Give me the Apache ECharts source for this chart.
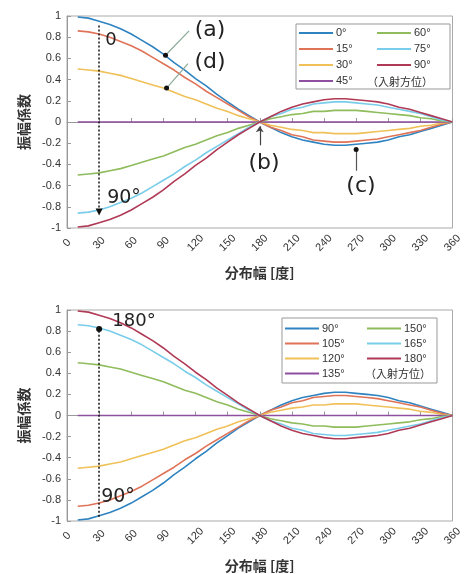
<!DOCTYPE html>
<html>
<head>
<meta charset="utf-8">
<script src="https://cdn.jsdelivr.net/npm/echarts@6/dist/echarts.min.js"></script>
<style>
  html, body { margin: 0; padding: 0; background: #fff; }
  #chart { width: 465px; height: 574px; }
</style>
</head>
<body>
<div id="chart"></div>
<script>
// Distribution width [deg] at which the coefficient is sampled
const widths = [10,20,30,40,50,60,70,80,90,100,110,120,130,140,150,160,170,180,
                190,200,210,220,230,240,250,260,270,280,290,300,310,320,330,340,350,360];

// Amplitude coefficient vs. distribution width, one list per incident azimuth
const coef0  = [0.99,0.98,0.95,0.92,0.88,0.83,0.77,0.71,0.64,0.56,0.49,0.41,0.34,0.26,0.19,0.12,0.06,0,
                -0.05,-0.10,-0.14,-0.17,-0.19,-0.21,-0.22,-0.22,-0.21,-0.20,-0.19,-0.17,-0.14,-0.12,-0.09,-0.06,-0.03,0];
const coef15 = [0.86,0.85,0.83,0.80,0.76,0.72,0.67,0.61,0.55,0.49,0.42,0.36,0.29,0.23,0.17,0.11,0.05,0,
                -0.05,-0.08,-0.12,-0.14,-0.17,-0.18,-0.19,-0.19,-0.18,-0.17,-0.16,-0.14,-0.12,-0.10,-0.08,-0.05,-0.02,0];
const coef30 = [0.50,0.49,0.48,0.46,0.44,0.41,0.38,0.35,0.32,0.28,0.24,0.21,0.17,0.13,0.10,0.06,0.03,0,
                -0.03,-0.05,-0.07,-0.08,-0.10,-0.10,-0.11,-0.11,-0.11,-0.10,-0.09,-0.08,-0.07,-0.06,-0.04,-0.03,-0.01,0];
const coef45 = [0,0,0,0,0,0,0,0,0,0,0,0,0,0,0,0,0,0,
                0,0,0,0,0,0,0,0,0,0,0,0,0,0,0,0,0,0];
const coef60 = [-0.50,-0.49,-0.48,-0.46,-0.44,-0.41,-0.38,-0.35,-0.32,-0.28,-0.24,-0.21,-0.17,-0.13,-0.10,-0.06,-0.03,0,
                0.03,0.05,0.07,0.08,0.10,0.10,0.11,0.11,0.11,0.10,0.09,0.08,0.07,0.06,0.04,0.03,0.01,0];
const coef75 = [-0.86,-0.85,-0.83,-0.80,-0.76,-0.72,-0.67,-0.61,-0.55,-0.49,-0.42,-0.36,-0.29,-0.23,-0.17,-0.11,-0.05,0,
                0.05,0.08,0.12,0.14,0.17,0.18,0.19,0.19,0.18,0.17,0.16,0.14,0.12,0.10,0.08,0.05,0.02,0];
const coef90 = [-0.99,-0.98,-0.95,-0.92,-0.88,-0.83,-0.77,-0.71,-0.64,-0.56,-0.49,-0.41,-0.34,-0.26,-0.19,-0.12,-0.06,0,
                0.05,0.10,0.14,0.17,0.19,0.21,0.22,0.22,0.21,0.20,0.19,0.17,0.14,0.12,0.09,0.06,0.03,0];
// Azimuths 90..180 repeat the same curves mirrored about 90 deg
const coef105 = coef75, coef120 = coef60, coef135 = coef45;
const coef150 = coef30, coef165 = coef15, coef180 = coef0;

const topNames    = ['0°','15°','30°','45°','60°','75°','90°'];
const topData     = [coef0, coef15, coef30, coef45, coef60, coef75, coef90];
// trailing space keeps the lower legend's "90° " distinct from the upper one
const bottomNames = ['90° ','105°','120°','135°','150°','165°','180°'];
const bottomData  = [coef90, coef105, coef120, coef135, coef150, coef165, coef180];

const xTicks = { min: 0, max: 360, interval: 30 };
const yTicks = { min: -1, max: 1, interval: 0.2 };

const palette = ['#2f83c0','#df7358','#f0c159','#8f4fa0','#8fbc5c','#79cdea','#b03a56'];
const LATIN = '"Liberation Sans", Arial, sans-serif';
const CJK = '"Noto Sans CJK JP", "Noto Sans", sans-serif';

function pairs(arr) { return widths.map((w, i) => [w, arr[i]]); }

function xAxis(gridIndex) {
  return {
    type: 'value', gridIndex, min: xTicks.min, max: xTicks.max, interval: xTicks.interval,
    name: '分布幅 [度]', nameLocation: 'middle', nameGap: 38,
    nameTextStyle: { fontFamily: CJK, fontSize: 14, fontWeight: 'bold', color: '#333' },
    axisLine: { show: true, lineStyle: { color: '#999' } },
    axisTick: { inside: true, length: 4, lineStyle: { color: '#999' } },
    splitLine: { show: false },
    axisLabel: { rotate: 45, margin: 15, align: 'center', verticalAlign: 'middle',
                 fontFamily: LATIN, fontSize: 11, color: '#333' }
  };
}
function yAxis(gridIndex) {
  return {
    type: 'value', gridIndex, min: yTicks.min, max: yTicks.max, interval: yTicks.interval,
    name: '振幅係数', nameLocation: 'middle', nameGap: 35, nameRotate: 90,
    nameTextStyle: { fontFamily: CJK, fontSize: 14, fontWeight: 'bold', color: '#333' },
    axisLine: { show: true, lineStyle: { color: '#999' } },
    axisTick: { inside: true, length: 4, lineStyle: { color: '#999' } },
    splitLine: { show: false },
    axisLabel: { margin: 6, fontFamily: LATIN, fontSize: 11, color: '#333' }
  };
}

function pt(x, y, symbol, size) { return { coord: [x, y], symbol: symbol, symbolSize: size }; }

// Arrows and pointers drawn in data coordinates
const topMarks = [
  { color: '#111', type: [2, 2], width: 1.5,
    d: [pt(30, 0.91, 'none', 0), pt(30, -0.85, 'triangle', 7)] },
  { color: '#8aa896', type: 'solid', width: 1.2,
    d: [pt(114, 0.86, 'none', 0), pt(92, 0.63, 'none', 0)] },
  { color: '#8aa896', type: 'solid', width: 1.2,
    d: [pt(113, 0.55, 'none', 0), pt(93, 0.32, 'none', 0)] },
  { color: '#444', type: 'solid', width: 1.2,
    d: [pt(180, -0.22, 'none', 0), pt(180, -0.04, 'arrow', 6)] },
  { color: '#555', type: 'solid', width: 1.2,
    d: [pt(270, -0.46, 'none', 0), pt(270, -0.26, 'none', 0)] }
];
const topDots = [[92, 0.63], [93, 0.32], [270, -0.26]];
const bottomMarks = [
  { color: '#111', type: [2, 2], width: 1.5,
    d: [pt(30, -0.96, 'none', 0), pt(30, 0.82, 'none', 0)] }
];
const bottomDots = [[30, 0.82]];

function markLineOf(list) {
  return {
    silent: true, animation: false,
    label: { show: false },
    data: list.map(m => [
      Object.assign({ lineStyle: { color: m.color, type: m.type, width: m.width } }, m.d[0]),
      m.d[1]
    ])
  };
}
function markPointOf(dots, size) {
  return {
    silent: true, animation: false,
    label: { show: false },
    data: dots.map(c => ({ coord: c, symbol: 'circle', symbolSize: size, itemStyle: { color: '#111' } }))
  };
}

const series = [];
topNames.forEach((n, i) => {
  const s = { name: n, type: 'line', xAxisIndex: 0, yAxisIndex: 0, data: pairs(topData[i]),
              showSymbol: false, smooth: false, lineStyle: { width: 1.6, color: palette[i] },
              itemStyle: { color: palette[i] }, z: 2 };
  if (i === 3) { s.markLine = markLineOf(topMarks); s.markPoint = markPointOf(topDots, 5); }
  series.push(s);
});
bottomNames.forEach((n, i) => {
  const s = { name: n, type: 'line', xAxisIndex: 1, yAxisIndex: 1, data: pairs(bottomData[i]),
              showSymbol: false, smooth: false, lineStyle: { width: 1.6, color: palette[i] },
              itemStyle: { color: palette[i] }, z: 2 };
  if (i === 3) { s.markLine = markLineOf(bottomMarks); s.markPoint = markPointOf(bottomDots, 6); }
  series.push(s);
});

function legend(names, left, top, lh) {
  return {
    data: names, left, top, orient: 'vertical', padding: 0, itemGap: 2,
    icon: 'rect', itemWidth: 34, itemHeight: 2, selectedMode: false,
    textStyle: { fontFamily: LATIN, fontSize: 11, color: '#333', lineHeight: lh, padding: [0, 0, 0, -2] }
  };
}

const annoText = (text, x, y, size) => ({
  type: 'text', x, y, z: 10,
  style: { text, fontFamily: '"DejaVu Sans", sans-serif', fontSize: size, fill: '#222',
           align: 'center', verticalAlign: 'middle' }
});

const option = {
  animation: false,
  backgroundColor: '#fff',
  grid: [
    { left: 67, right: 10, top: 16, height: 212, show: true, borderColor: '#aaa', borderWidth: 1 },
    { left: 67, right: 10, top: 310, height: 211, show: true, borderColor: '#aaa', borderWidth: 1 }
  ],
  xAxis: [xAxis(0), xAxis(1)],
  yAxis: [yAxis(0), yAxis(1)],
  legend: [
    legend(topNames.slice(0, 4), 299, 26, 14),
    legend(topNames.slice(4), 377, 26, 14),
    legend(bottomNames.slice(0, 4), 285, 322, 13),
    legend(bottomNames.slice(4), 367, 322, 13)
  ],
  graphic: [
    { type: 'rect', shape: { x: 296, y: 24, width: 154, height: 65 }, z: 0,
      style: { fill: '#fff', stroke: '#999', lineWidth: 1 } },
    { type: 'rect', shape: { x: 282, y: 318, width: 155, height: 65 }, z: 0,
      style: { fill: '#fff', stroke: '#999', lineWidth: 1 } },
    { type: 'text', x: 400, y: 82, z: 10,
      style: { text: '（入射方位）', fontFamily: CJK, fontSize: 11, fill: '#333', align: 'center', verticalAlign: 'middle' } },
    { type: 'text', x: 398, y: 374, z: 10,
      style: { text: '（入射方位）', fontFamily: CJK, fontSize: 11, fill: '#333', align: 'center', verticalAlign: 'middle' } },
    annoText('(a)', 210, 30, 22),
    annoText('(d)', 210, 62, 22),
    annoText('0', 111, 40, 18),
    annoText('90°', 124, 198, 19),
    annoText('(b)', 264, 163, 22),
    annoText('(c)', 361, 186, 22),
    annoText('180°', 134, 321, 18),
    annoText('90°', 118, 497, 19)
  ],
  series
};

const chart = echarts.init(document.getElementById('chart'), null, { renderer: 'canvas' });
chart.setOption(option);
</script>
</body>
</html>
